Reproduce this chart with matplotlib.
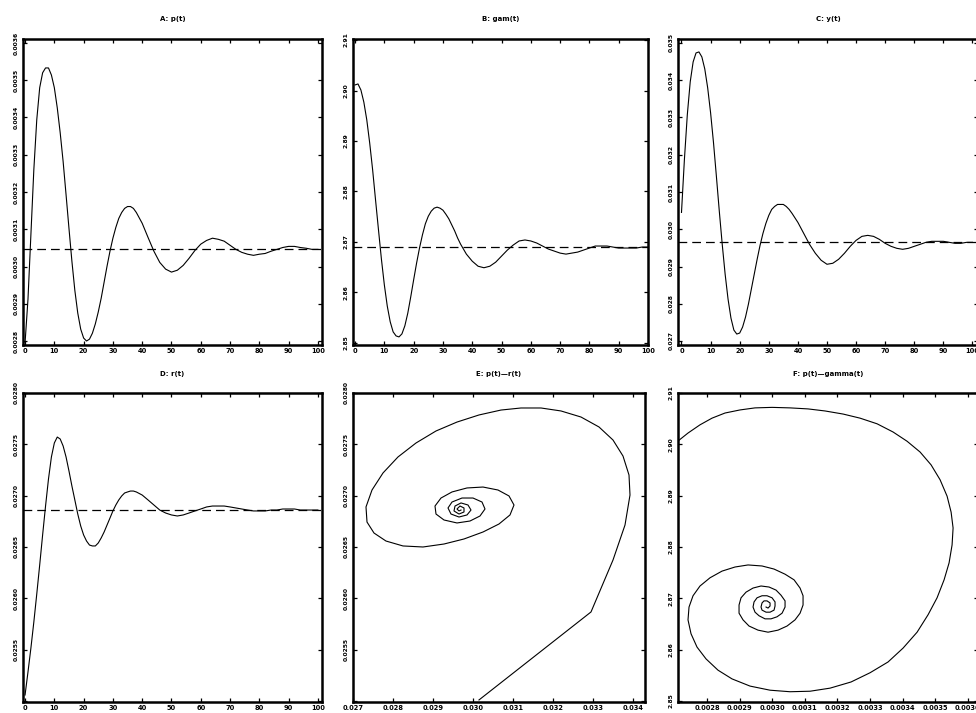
import matplotlib
matplotlib.use("Agg")
import matplotlib.pyplot as plt

plt.rcParams['font.family'] = ['DejaVu Sans']
plt.rcParams['font.weight'] = 'bold'

# ---------------- data ----------------
t = list(range(0, 39)) + list(range(40, 101, 2))

p_vals = [0.002795, 0.002912, 0.003086, 0.003260, 0.003394, 0.003480, 0.003520, 0.003533,
          0.003533, 0.003514, 0.003480, 0.003426, 0.003359, 0.003282, 0.003193, 0.003102,
          0.003014, 0.002936, 0.002875, 0.002832, 0.002808, 0.002800, 0.002805, 0.002821,
          0.002846, 0.002878, 0.002915, 0.002958, 0.003001, 0.003041, 0.003076, 0.003105,
          0.003129, 0.003145, 0.003156, 0.003161, 0.003161, 0.003156, 0.003145,
          0.003116, 0.003078, 0.003041, 0.003011, 0.002993, 0.002985, 0.002990, 0.003003,
          0.003022, 0.003043, 0.003060, 0.003070, 0.003076, 0.003073, 0.003068, 0.003057,
          0.003046, 0.003038, 0.003033, 0.003030, 0.003033, 0.003035, 0.003041, 0.003046,
          0.003051, 0.003054, 0.003054, 0.003051, 0.003049, 0.003046, 0.003046]

gam_vals = [2.9011, 2.9013, 2.9001, 2.8977, 2.8942, 2.8896, 2.8843, 2.8783,
            2.8724, 2.8666, 2.8615, 2.8573, 2.8542, 2.8522, 2.8514, 2.8512,
            2.8518, 2.8534, 2.8559, 2.8591, 2.8625, 2.8658, 2.8688, 2.8714,
            2.8736, 2.8751, 2.8761, 2.8767, 2.8769, 2.8767, 2.8763, 2.8755,
            2.8746, 2.8734, 2.8722, 2.8708, 2.8696, 2.8686, 2.8676,
            2.8662, 2.8652, 2.8649, 2.8652, 2.8660, 2.8672, 2.8684, 2.8694,
            2.8702, 2.8704, 2.8702, 2.8698, 2.8692, 2.8686, 2.8682, 2.8678,
            2.8676, 2.8678, 2.8680, 2.8684, 2.8688, 2.8692, 2.8692, 2.8692,
            2.8690, 2.8688, 2.8688, 2.8688, 2.8688, 2.8690, 2.8690]

y_vals = [0.030452, 0.031870, 0.033074, 0.033957, 0.034492, 0.034733, 0.034760, 0.034626,
          0.034304, 0.033796, 0.033127, 0.032324, 0.031415, 0.030478, 0.029595, 0.028793,
          0.028124, 0.027615, 0.027294, 0.027187, 0.027214, 0.027375, 0.027642, 0.027990,
          0.028391, 0.028793, 0.029194, 0.029569, 0.029890, 0.030157, 0.030371, 0.030532,
          0.030612, 0.030666, 0.030666, 0.030666, 0.030612, 0.030532, 0.030425,
          0.030184, 0.029890, 0.029595, 0.029355, 0.029167, 0.029060, 0.029087, 0.029194,
          0.029355, 0.029542, 0.029702, 0.029809, 0.029836, 0.029809, 0.029729, 0.029622,
          0.029542, 0.029488, 0.029462, 0.029488, 0.029542, 0.029595, 0.029649, 0.029676,
          0.029676, 0.029676, 0.029649, 0.029622, 0.029622, 0.029649, 0.029649]

r_vals = [0.025058, 0.025282, 0.025516, 0.025769, 0.026042, 0.026325, 0.026617, 0.026899,
          0.027162, 0.027377, 0.027513, 0.027571, 0.027552, 0.027484, 0.027377, 0.027240,
          0.027094, 0.026958, 0.026821, 0.026705, 0.026617, 0.026558, 0.026519, 0.026510,
          0.026510, 0.026539, 0.026588, 0.026646, 0.026714, 0.026782, 0.026851, 0.026909,
          0.026958, 0.026997, 0.027026, 0.027036, 0.027045, 0.027045, 0.027036,
          0.027006, 0.026958, 0.026909, 0.026860, 0.026831, 0.026812, 0.026802, 0.026812,
          0.026831, 0.026851, 0.026870, 0.026890, 0.026899, 0.026899, 0.026899, 0.026890,
          0.026880, 0.026870, 0.026860, 0.026851, 0.026851, 0.026851, 0.026860, 0.026860,
          0.026870, 0.026870, 0.026870, 0.026860, 0.026860, 0.026860, 0.026860]

p_ss = 0.003046
gam_ss = 2.8690
y_ss = 0.029649
r_ss = 0.026860

# phase plot E
e_x = [0.03015, 0.03295, 0.0335, 0.0338, 0.033925, 0.0339, 0.03375, 0.0335, 0.03315,
       0.0327, 0.0322, 0.0317, 0.0312, 0.0307, 0.03015, 0.0296, 0.029075, 0.028575,
       0.028125, 0.02775, 0.027475, 0.027325, 0.02735, 0.027525, 0.027825, 0.02825,
       0.02875, 0.029275, 0.029775, 0.03025, 0.03065, 0.030925, 0.031025, 0.0309,
       0.030625, 0.03025, 0.02985, 0.029475, 0.0292, 0.02905, 0.029075, 0.029275,
       0.0296, 0.029925, 0.030175, 0.0303, 0.030225, 0.03, 0.029725, 0.029475,
       0.029375, 0.02945, 0.02965, 0.02985, 0.02995, 0.029875, 0.0297, 0.02955,
       0.029525, 0.02965, 0.029775, 0.029775, 0.029675, 0.0296, 0.02965, 0.0297]
e_y = [0.025010, 0.025867, 0.026373, 0.026714, 0.027006, 0.027201, 0.027386, 0.027542,
       0.027669, 0.027766, 0.027825, 0.027854, 0.027854, 0.027834, 0.027786, 0.027717,
       0.027630, 0.027513, 0.027377, 0.027221, 0.027055, 0.026890, 0.026743, 0.026636,
       0.026558, 0.026510, 0.026500, 0.026529, 0.026578, 0.026646, 0.026724, 0.026812,
       0.026909, 0.026997, 0.027055, 0.027084, 0.027075, 0.027036, 0.026977, 0.026899,
       0.026821, 0.026763, 0.026734, 0.026753, 0.026802, 0.026870, 0.026938, 0.026977,
       0.026977, 0.026938, 0.026880, 0.026821, 0.026792, 0.026812, 0.026860, 0.026909,
       0.026929, 0.026899, 0.026851, 0.026821, 0.026841, 0.026880, 0.026899, 0.026870,
       0.026851, 0.026860]

# phase plot F
f_x = [0.0027141, 0.0027417, 0.0027785, 0.0028153, 0.0028552, 0.0029012, 0.0029472,
       0.0029994, 0.0030546, 0.0031098, 0.0031620, 0.0032172, 0.0032693, 0.0033215,
       0.0033706, 0.0034135, 0.0034534, 0.0034871, 0.0035147, 0.0035362, 0.0035485,
       0.0035546, 0.0035515, 0.0035423, 0.0035270, 0.0035055, 0.0034779, 0.0034442,
       0.0034012, 0.0033552, 0.0033000, 0.0032417, 0.0031773, 0.0031160, 0.0030546,
       0.0029933, 0.0029319, 0.0028767, 0.0028337, 0.0027969, 0.0027693, 0.0027509,
       0.0027417, 0.0027448, 0.0027571, 0.0027785, 0.0028092, 0.0028460, 0.0028859,
       0.0029258, 0.0029687, 0.0030055, 0.0030393, 0.0030669, 0.0030853, 0.0030945,
       0.0030945, 0.0030853, 0.0030699, 0.0030454, 0.0030178, 0.0029871, 0.0029564,
       0.0029288, 0.0029104, 0.0028982, 0.0028982, 0.0029043, 0.0029196, 0.0029411,
       0.0029656, 0.0029902, 0.0030117, 0.0030270, 0.0030393, 0.0030393, 0.0030301,
       0.0030147, 0.0029963, 0.0029779, 0.0029595, 0.0029472, 0.0029411, 0.0029442,
       0.0029534, 0.0029687, 0.0029840, 0.0029994, 0.0030086, 0.0030086, 0.0030055,
       0.0029933, 0.0029810, 0.0029687, 0.0029656, 0.0029687, 0.0029748, 0.0029840,
       0.0029933, 0.0029933, 0.0029871, 0.0029810]
f_y = [2.9008, 2.9022, 2.9038, 2.9051, 2.9061, 2.9067, 2.9071, 2.9072, 2.9071, 2.9069,
       2.9065, 2.9059, 2.9051, 2.9040, 2.9024, 2.9006, 2.8985, 2.8960, 2.8931, 2.8899,
       2.8868, 2.8837, 2.8804, 2.8769, 2.8736, 2.8701, 2.8668, 2.8634, 2.8603, 2.8576,
       2.8555, 2.8537, 2.8525, 2.8519, 2.8518, 2.8521, 2.8529, 2.8543, 2.8560, 2.8582,
       2.8605, 2.8631, 2.8658, 2.8683, 2.8705, 2.8724, 2.8740, 2.8753, 2.8761, 2.8765,
       2.8763, 2.8757, 2.8747, 2.8736, 2.8720, 2.8705, 2.8687, 2.8671, 2.8658, 2.8646,
       2.8638, 2.8634, 2.8638, 2.8646, 2.8658, 2.8671, 2.8687, 2.8701, 2.8712, 2.8720,
       2.8724, 2.8722, 2.8716, 2.8706, 2.8695, 2.8683, 2.8671, 2.8664, 2.8660, 2.8660,
       2.8666, 2.8673, 2.8683, 2.8693, 2.8701, 2.8705, 2.8705, 2.8701, 2.8693, 2.8685,
       2.8677, 2.8673, 2.8673, 2.8677, 2.8683, 2.8691, 2.8695, 2.8695, 2.8691, 2.8685,
       2.8681, 2.8683]

titles = ["A: p(t)", "B: gam(t)", "C: y(t)", "D: r(t)", "E: p(t)\u2014r(t)", "F: p(t)\u2014gamma(t)"]

time_ticks = list(range(0, 101, 10))
a_ticks = [0.0028, 0.0029, 0.0030, 0.0031, 0.0032, 0.0033, 0.0034, 0.0035, 0.0036]
b_ticks = [2.85, 2.86, 2.87, 2.88, 2.89, 2.90, 2.91]
c_ticks = [0.027, 0.028, 0.029, 0.030, 0.031, 0.032, 0.033, 0.034, 0.035]
d_ticks = [0.0250, 0.0255, 0.0260, 0.0265, 0.0270, 0.0275, 0.0280]
e_xticks = [0.027, 0.028, 0.029, 0.030, 0.031, 0.032, 0.033, 0.034]
f_xticks = [0.0028, 0.0029, 0.0030, 0.0031, 0.0032, 0.0033, 0.0034, 0.0035, 0.0036]
f_yticks = [2.85, 2.86, 2.87, 2.88, 2.89, 2.90, 2.91]

# ---------------- figure ----------------
W, H = 976, 713
fig = plt.figure(figsize=(W / 100, H / 100), dpi=100)


def make_axes(left, top, right, bottom):
    return fig.add_axes([left / W, 1 - bottom / H, (right - left) / W, (bottom - top) / H])


def style(ax, title, pad):
    for s in ax.spines.values():
        s.set_linewidth(1.8)
    ax.tick_params(axis='both', direction='in', length=3, width=0.9,
                   top=True, right=True, colors='black')
    ax.tick_params(axis='x', labelsize=4.8, pad=2)
    ax.tick_params(axis='y', labelsize=4.3, pad=3, labelrotation=90)
    for lab in ax.get_yticklabels():
        lab.set_verticalalignment('center')
    ax.set_title(title, fontsize=5, fontweight='bold', pad=pad)


LW = 0.8
DASH = dict(color='black', lw=0.9, dashes=(7, 4))

axA = make_axes(23, 39, 322, 345)
axA.plot(t, p_vals, color='black', lw=LW)
axA.axhline(p_ss, **DASH)
axA.set_xlim(-0.7, 101.4)
axA.set_ylim(0.0027893, 0.0036107)
axA.set_xticks(time_ticks)
axA.set_yticks(a_ticks)
axA.set_yticklabels([f"{v:.4f}" for v in a_ticks])
style(axA, titles[0], 13)

axB = make_axes(353, 39, 648, 345)
axB.plot(t, gam_vals, color='black', lw=LW)
axB.axhline(gam_ss, **DASH)
axB.set_xlim(-0.7, 100)
axB.set_ylim(2.8496, 2.9102)
axB.set_xticks(time_ticks)
axB.set_yticks(b_ticks)
axB.set_yticklabels([f"{v:.2f}" for v in b_ticks])
style(axB, titles[1], 13)

axC = make_axes(678, 39, 978, 345)
axC.plot(t, y_vals, color='black', lw=LW)
axC.axhline(y_ss, **DASH)
axC.set_xlim(-1.2, 101.9)
axC.set_ylim(0.026893, 0.035107)
axC.set_xticks(time_ticks)
axC.set_yticks(c_ticks)
axC.set_yticklabels([f"{v:.3f}" for v in c_ticks])
style(axC, titles[2], 13)

axD = make_axes(23, 393, 322, 702)
axD.plot(t, r_vals, color='black', lw=LW)
axD.axhline(r_ss, **DASH)
axD.set_xlim(-0.7, 101.4)
axD.set_ylim(0.02499, 0.02800)
axD.set_xticks(time_ticks)
axD.set_yticks(d_ticks)
axD.set_yticklabels([""] + [f"{v:.4f}" for v in d_ticks[1:]])
style(axD, titles[3], 12)

axE = make_axes(353, 393, 645, 702)
axE.plot(e_x, e_y, color='black', lw=LW)
axE.set_xlim(0.027, 0.0343)
axE.set_ylim(0.02499, 0.02800)
axE.set_xticks(e_xticks)
axE.set_xticklabels([f"{v:.3f}" for v in e_xticks])
axE.set_yticks(d_ticks)
axE.set_yticklabels([""] + [f"{v:.4f}" for v in d_ticks[1:]])
style(axE, titles[4], 12)

axF = make_axes(678, 393, 978, 702)
axF.plot(f_x, f_y, color='black', lw=LW)
axF.set_xlim(0.002711, 0.003631)
axF.set_ylim(2.8498, 2.9100)
axF.set_xticks(f_xticks)
axF.set_xticklabels([f"{v:.4f}" for v in f_xticks])
axF.set_yticks(f_yticks)
axF.set_yticklabels([f"{v:.2f}" for v in f_yticks])
style(axF, titles[5], 12)

fig.savefig("out.png", dpi=100)
